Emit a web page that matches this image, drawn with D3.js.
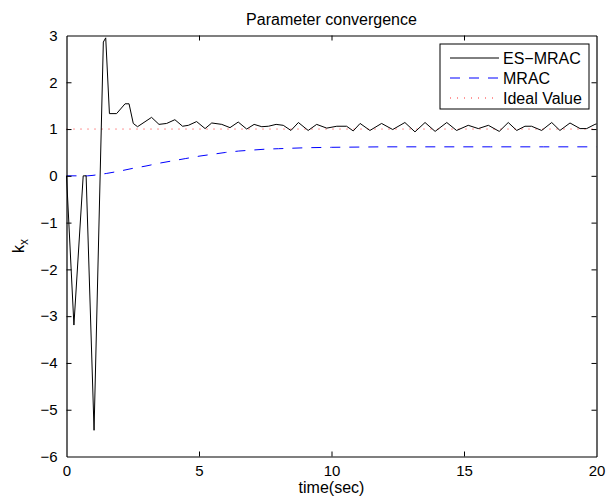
<!DOCTYPE html>
<html>
<head>
<meta charset="utf-8">
<script src="https://cdn.jsdelivr.net/npm/d3@7"></script>
<style>
  body { margin: 0; background: #fff; }
  text { font-family: "Liberation Sans", Arial, sans-serif; fill: #000; }
</style>
</head>
<body>
<svg id="chart" width="606" height="498"></svg>
<script>
// ES-MRAC estimate (time, value)
const esTime = [0, 0.28, 0.63, 0.74, 1.04, 1.39, 1.48, 1.62, 1.89, 2.21, 2.36, 2.52, 2.68, 3.21, 3.49, 3.78, 4.09, 4.38, 4.6,
  4.91, 5.23, 5.48, 5.86, 6.17, 6.48, 6.80, 7.08, 7.37, 7.62, 7.91, 8.18, 8.47, 8.75, 9.12, 9.44, 9.82, 10.20,
  10.57, 10.82, 11.08, 11.45, 11.89, 12.31, 12.77, 13.15, 13.53, 13.91, 14.35, 14.72, 15.16, 15.54, 15.92,
  16.33, 16.67, 16.99, 17.30, 17.55, 17.93, 18.31, 18.62, 19.0, 19.38, 19.63, 19.94, 20];
const esValue = [0, -3.19, 0, 0, -5.44, 2.86, 2.95, 1.33, 1.33, 1.54, 1.54, 1.12, 1.05, 1.25, 1.10, 1.12, 1.20, 1.06, 1.08,
  1.16, 1.01, 1.13, 1.10, 1.03, 1.15, 1.00, 1.10, 1.05, 1.06, 1.10, 1.08, 0.97, 1.14, 0.97, 1.10, 1.02, 1.06,
  1.06, 0.96, 1.12, 0.97, 1.12, 0.99, 1.14, 0.94, 1.14, 0.95, 1.14, 0.97, 1.08, 1.01, 1.08,
  0.95, 1.14, 0.97, 1.06, 1.06, 0.97, 1.14, 0.97, 1.13, 1.01, 1.01, 1.10, 1.11];

// MRAC estimate
const mracTime = [0, 0.8, 1, 1.5, 2, 2.5, 3, 3.5, 4, 4.5, 5, 5.5, 6, 6.5, 7, 7.5, 8, 9, 10, 11, 12, 14, 16, 18, 20];
const mracValue = [0, 0, 0.01, 0.05, 0.1, 0.16, 0.21, 0.27, 0.32, 0.37, 0.42, 0.46, 0.5, 0.53, 0.55, 0.57, 0.58, 0.6, 0.61, 0.615, 0.62, 0.62, 0.62, 0.62, 0.62];

const idealTime = [0, 20];
const idealValue = [1, 1];

const xTicks = [0, 5, 10, 15, 20];
const yTicks = [-6, -5, -4, -3, -2, -1, 0, 1, 2, 3];
const legendLabels = ["ES\u2212MRAC", "MRAC", "Ideal Value"];

const svg = d3.select("#chart");
const plotLeft = 66.5, plotRight = 596.5, plotTop = 35.5, plotBottom = 456.5;

const x = d3.scaleLinear().domain([0, 20]).range([plotLeft, plotRight]);
const y = d3.scaleLinear().domain([-6, 3]).range([plotBottom, plotTop]);
const fmt = d => d < 0 ? "\u2212" + Math.abs(d) : String(d);

svg.append("rect").attr("width", 606).attr("height", 498).attr("fill", "#fff");

const line = d3.line().x(d => x(d[0])).y(d => y(d[1]));
const zip = (a, b) => a.map((v, i) => [v, b[i]]);

const plot = svg.append("g");
plot.append("path")
    .attr("d", line(zip(idealTime, idealValue)))
    .attr("fill", "none")
    .attr("stroke", "#ff3030")
    .attr("stroke-width", 1)
    .attr("stroke-dasharray", "1,6");
plot.append("path")
    .attr("d", line(zip(mracTime, mracValue)))
    .attr("fill", "none")
    .attr("stroke", "#0000ff")
    .attr("stroke-width", 1)
    .attr("stroke-dasharray", "10,9");
plot.append("path")
    .attr("d", line(zip(esTime, esValue)))
    .attr("fill", "none")
    .attr("stroke", "#000")
    .attr("stroke-width", 1);

// axes (box with inward ticks)
const tick = 5;
const xAxis = svg.append("g").attr("transform", `translate(0,${plotBottom})`)
    .call(d3.axisBottom(x).tickValues(xTicks).tickSizeInner(-tick).tickSizeOuter(0).tickPadding(9).tickFormat(fmt));
const xAxisTop = svg.append("g").attr("transform", `translate(0,${plotTop})`)
    .call(d3.axisTop(x).tickValues(xTicks).tickSizeInner(-tick).tickSizeOuter(0).tickFormat(""));
const yAxis = svg.append("g").attr("transform", `translate(${plotLeft},0)`)
    .call(d3.axisLeft(y).tickValues(yTicks).tickSizeInner(-tick).tickSizeOuter(0).tickPadding(9).tickFormat(fmt));
const yAxisRight = svg.append("g").attr("transform", `translate(${plotRight},0)`)
    .call(d3.axisRight(y).tickValues(yTicks).tickSizeInner(-tick).tickSizeOuter(0).tickFormat(""));

[xAxis, xAxisTop, yAxis, yAxisRight].forEach(g => {
    g.select(".domain").attr("stroke", "#000").attr("stroke-width", 1.2);
    g.selectAll(".tick line").attr("stroke", "#000").attr("stroke-width", 1);
    g.selectAll("text").attr("font-size", 15).attr("font-family", "Liberation Sans, Arial, sans-serif");
    g.selectAll(".tick:first-of-type line, .tick:last-of-type line").remove();
});

// titles
svg.append("text")
    .attr("x", (plotLeft + plotRight) / 2).attr("y", 25)
    .attr("text-anchor", "middle").attr("font-size", 16)
    .text("Parameter convergence");
svg.append("text")
    .attr("x", (plotLeft + plotRight) / 2).attr("y", 493)
    .attr("text-anchor", "middle").attr("font-size", 16)
    .text("time(sec)");
const yl = svg.append("text")
    .attr("transform", `translate(24,${(plotTop + plotBottom) / 2}) rotate(-90)`)
    .attr("text-anchor", "middle").attr("font-size", 16);
yl.append("tspan").text("k");
yl.append("tspan").attr("dy", 4).attr("font-size", 12).text("x");

// legend
const legend = svg.append("g");
legend.append("rect")
    .attr("x", 440).attr("y", 44).attr("width", 149).attr("height", 65)
    .attr("fill", "#fff").attr("stroke", "#000").attr("stroke-width", 1);
const legendStyles = [
    { stroke: "#000", dash: null },
    { stroke: "#0000ff", dash: "10,9" },
    { stroke: "#ff3030", dash: "1,6" }
];
legendLabels.forEach((label, i) => {
    const ly = 58 + i * 20;
    legend.append("line")
        .attr("x1", 450).attr("x2", 499).attr("y1", ly).attr("y2", ly)
        .attr("stroke", legendStyles[i].stroke).attr("stroke-width", 1)
        .attr("stroke-dasharray", legendStyles[i].dash);
    legend.append("text")
        .attr("x", 503).attr("y", ly + 6).attr("font-size", 16)
        .text(label);
});
</script>
</body>
</html>
